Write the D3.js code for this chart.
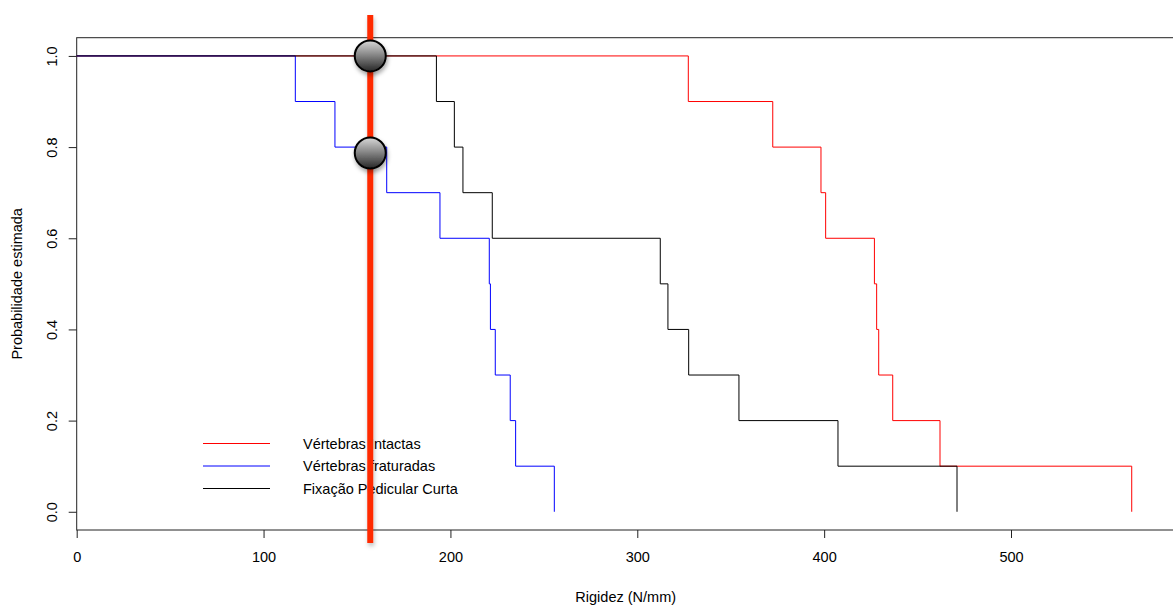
<!DOCTYPE html>
<html>
<head>
<meta charset="utf-8">
<script src="https://cdn.jsdelivr.net/npm/d3@7"></script>
<style>
  body { margin: 0; background: #fff; }
  svg { font-family: "Liberation Sans", Arial, sans-serif; }
</style>
</head>
<body>
<svg id="chart" width="1173" height="608"></svg>
<script>
// Data
const seriesNames = ["Vértebras Intactas", "Vértebras fraturadas", "Fixação Pedicular Curta"];
const seriesColors = ["#ff0000", "#0000ff", "#000000"];

const survValues = [0.9, 0.8, 0.7, 0.6, 0.5, 0.4, 0.3, 0.2, 0.1, 0.0];
const intactasTimes = [327.3, 372.5, 398.3, 400.8, 426.9, 428.1, 429.2, 436.7, 462.0, 564.6];
const fraturadasTimes = [117.0, 138.2, 165.9, 194.4, 220.8, 221.4, 224.0, 232.0, 234.9, 255.6];
const fixacaoTimes = [192.5, 202.1, 206.7, 222.4, 312.3, 316.4, 327.5, 354.4, 407.4, 471.1];

const xTicks = [0, 100, 200, 300, 400, 500];
const yTicks = [0.0, 0.2, 0.4, 0.6, 0.8, 1.0];

// marker line and the two points on it
const markerX = 157.1;
const markerPoints = [1.0, 0.787];

const fs = 14.5;

// Scales
const x = d3.scaleLinear().domain([0, 587.6]).range([76.7, 1174.7]);
const y = d3.scaleLinear().domain([-0.04, 1.04]).range([530, 37.7]);

const svg = d3.select("#chart");

const defs = svg.append("defs");
const grad = defs.append("linearGradient")
  .attr("id", "ball")
  .attr("x1", 0).attr("y1", 0).attr("x2", 0).attr("y2", 1);
grad.append("stop").attr("offset", "0%").attr("stop-color", "#d8d8d8");
grad.append("stop").attr("offset", "45%").attr("stop-color", "#8a8a8a");
grad.append("stop").attr("offset", "100%").attr("stop-color", "#262626");

const shadow = defs.append("filter").attr("id", "shadow")
  .attr("x", "-50%").attr("y", "-50%").attr("width", "200%").attr("height", "200%");
shadow.append("feDropShadow")
  .attr("dx", 1).attr("dy", 3).attr("stdDeviation", 2)
  .attr("flood-color", "#000").attr("flood-opacity", 0.35);

const barShadow = defs.append("filter").attr("id", "barShadow")
  .attr("x", "-200%").attr("y", "-5%").attr("width", "500%").attr("height", "110%");
barShadow.append("feDropShadow")
  .attr("dx", 1).attr("dy", 3).attr("stdDeviation", 2)
  .attr("flood-color", "#000").attr("flood-opacity", 0.25);

// Box
svg.append("rect")
  .attr("x", x(0)).attr("y", y(1.04))
  .attr("width", x(587.6) - x(0)).attr("height", y(-0.04) - y(1.04))
  .attr("fill", "none").attr("stroke", "#222").attr("stroke-width", 1);

// Axes
const xAxis = svg.append("g")
  .attr("transform", `translate(0,${y(-0.04)})`)
  .call(d3.axisBottom(x).tickValues(xTicks).tickSize(8).tickPadding(14).tickFormat(d3.format("d")));
const yAxis = svg.append("g")
  .attr("transform", `translate(${x(0)},0)`)
  .call(d3.axisLeft(y).tickValues(yTicks).tickSize(8).tickFormat(d3.format(".1f")));

[xAxis, yAxis].forEach(g => {
  g.select(".domain").remove();
  g.selectAll("line").attr("stroke", "#222");
  g.selectAll("text").attr("font-size", fs).attr("fill", "#000")
    .attr("font-family", "Liberation Sans, Arial, sans-serif");
});

yAxis.selectAll("text")
  .attr("x", null).attr("dy", null)
  .attr("text-anchor", "middle")
  .attr("transform", "translate(-25,0) rotate(-90)")
  .attr("y", 5);

// Axis titles
svg.append("text")
  .attr("x", (x(0) + x(587.6)) / 2).attr("y", 602)
  .attr("text-anchor", "middle").attr("font-size", fs)
  .text("Rigidez (N/mm)");
svg.append("text")
  .attr("transform", `translate(22,${(y(1.04) + y(-0.04)) / 2}) rotate(-90)`)
  .attr("text-anchor", "middle").attr("font-size", fs)
  .text("Probabilidade estimada");

// Step curves
const allTimes = [intactasTimes, fraturadasTimes, fixacaoTimes];
const line = d3.line().x(d => x(d[0])).y(d => y(d[1])).curve(d3.curveStepAfter);

allTimes.forEach((times, i) => {
  const pts = [[0, 1]].concat(times.map((t, j) => [t, survValues[j]]));
  svg.append("path")
    .datum(pts)
    .attr("d", line)
    .attr("fill", "none")
    .attr("stroke", seriesColors[i])
    .attr("stroke-width", 1);
});

// Legend
const legend = svg.append("g");
seriesNames.forEach((name, i) => {
  const ly = 443.5 + i * 22.5;
  legend.append("line")
    .attr("x1", 203).attr("x2", 270).attr("y1", ly).attr("y2", ly)
    .attr("stroke", seriesColors[i]).attr("stroke-width", 1);
  legend.append("text")
    .attr("x", 303).attr("y", ly + 5)
    .attr("font-size", fs)
    .text(name);
});

// Red marker bar
svg.append("rect")
  .attr("x", x(markerX) - 3).attr("width", 6)
  .attr("y", 15).attr("height", 528)
  .attr("fill", "#ff2a00")
  .attr("filter", "url(#barShadow)");

// Balls
svg.selectAll("circle.ball")
  .data(markerPoints)
  .enter()
  .append("circle")
  .attr("class", "ball")
  .attr("cx", x(markerX))
  .attr("cy", d => y(d))
  .attr("r", 15.5)
  .attr("fill", "url(#ball)")
  .attr("stroke", "#000")
  .attr("stroke-width", 2)
  .attr("filter", "url(#shadow)");
</script>
</body>
</html>
